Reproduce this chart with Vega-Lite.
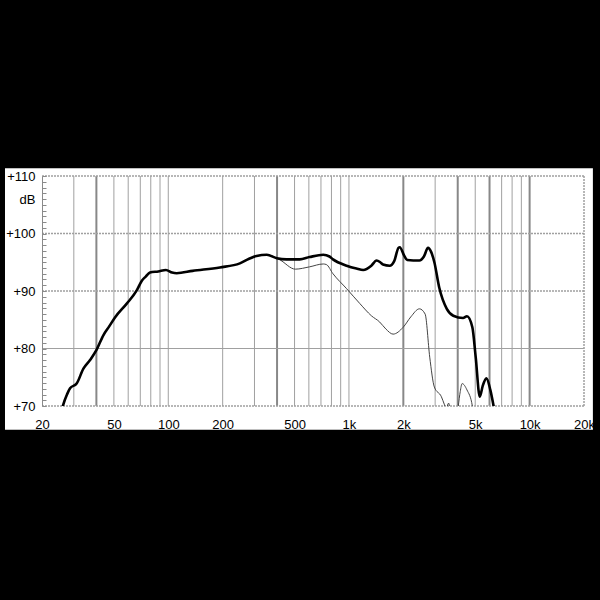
{
  "$schema": "https://vega.github.io/schema/vega-lite/v6.json",
  "width": 542,
  "height": 230,
  "autosize": {"type": "none"},
  "padding": {"left": 42, "top": 176, "right": 16, "bottom": 194},
  "background": "black",
  "config": {"view": {"stroke": null}, "font": "Liberation Sans"},
  "datasets": {
    "panel": [{"f1": 12.48, "f2": 22400, "db1": 65.85, "db2": 111.35}],
    "vgrid": [{"f": 30}, {"f": 50}, {"f": 60}, {"f": 70}, {"f": 80}, {"f": 90}, {"f": 100}, {"f": 200}, {"f": 300}, {"f": 500}, {"f": 600}, {"f": 700}, {"f": 800}, {"f": 900}, {"f": 1000}, {"f": 3000}, {"f": 5000}, {"f": 7000}, {"f": 8000}, {"f": 9000}],
    "vgridBold": [{"f": 40}, {"f": 400}, {"f": 2000}, {"f": 4000}, {"f": 6000}, {"f": 10000}],
    "vedge": [{"f": 20000}],
    "hdot": [{"db": 70}, {"db": 90}, {"db": 100}, {"db": 110}],
    "hsolid": [{"db": 80}],
    "curves": [
      {"s": "A", "f": 25.6, "db": 69.0},
      {"s": "A", "f": 26.2, "db": 70.2},
      {"s": "A", "f": 27.5, "db": 72.0},
      {"s": "A", "f": 28.6, "db": 73.1},
      {"s": "A", "f": 31.1, "db": 73.9},
      {"s": "A", "f": 33.9, "db": 76.5},
      {"s": "A", "f": 36.9, "db": 78.0},
      {"s": "A", "f": 40, "db": 79.7},
      {"s": "A", "f": 43.7, "db": 82.3},
      {"s": "A", "f": 47, "db": 83.8},
      {"s": "A", "f": 50.7, "db": 85.4},
      {"s": "A", "f": 58.9, "db": 87.8},
      {"s": "A", "f": 66.9, "db": 90.1},
      {"s": "A", "f": 71.4, "db": 91.8},
      {"s": "A", "f": 75, "db": 92.5},
      {"s": "A", "f": 79.2, "db": 93.2},
      {"s": "A", "f": 88, "db": 93.4},
      {"s": "A", "f": 97.1, "db": 93.65},
      {"s": "A", "f": 105, "db": 93.2},
      {"s": "A", "f": 111.4, "db": 93.1},
      {"s": "A", "f": 136.4, "db": 93.5},
      {"s": "A", "f": 193, "db": 94.1},
      {"s": "A", "f": 249, "db": 94.8},
      {"s": "A", "f": 280, "db": 95.6},
      {"s": "A", "f": 308, "db": 96.1},
      {"s": "A", "f": 351, "db": 96.3},
      {"s": "A", "f": 399, "db": 95.7},
      {"s": "A", "f": 451, "db": 95.5},
      {"s": "A", "f": 494, "db": 95.5},
      {"s": "A", "f": 534, "db": 95.5},
      {"s": "A", "f": 605, "db": 95.9},
      {"s": "A", "f": 721, "db": 96.3},
      {"s": "A", "f": 780, "db": 96.0},
      {"s": "A", "f": 816, "db": 95.5},
      {"s": "A", "f": 971, "db": 94.4},
      {"s": "A", "f": 1100, "db": 93.9},
      {"s": "A", "f": 1200, "db": 93.65},
      {"s": "A", "f": 1330, "db": 94.4},
      {"s": "A", "f": 1422, "db": 95.3},
      {"s": "A", "f": 1490, "db": 95.0},
      {"s": "A", "f": 1544, "db": 94.6},
      {"s": "A", "f": 1680, "db": 94.4},
      {"s": "A", "f": 1780, "db": 95.2},
      {"s": "A", "f": 1880, "db": 97.5},
      {"s": "A", "f": 1910, "db": 97.6},
      {"s": "A", "f": 2025, "db": 96.1},
      {"s": "A", "f": 2100, "db": 95.4},
      {"s": "A", "f": 2455, "db": 95.3},
      {"s": "A", "f": 2600, "db": 96.0},
      {"s": "A", "f": 2740, "db": 97.5},
      {"s": "A", "f": 2850, "db": 96.8},
      {"s": "A", "f": 2970, "db": 95.0},
      {"s": "A", "f": 3160, "db": 90.6},
      {"s": "A", "f": 3480, "db": 86.9},
      {"s": "A", "f": 3780, "db": 85.7},
      {"s": "A", "f": 4280, "db": 85.3},
      {"s": "A", "f": 4500, "db": 85.6},
      {"s": "A", "f": 4820, "db": 83.7},
      {"s": "A", "f": 5030, "db": 78.5},
      {"s": "A", "f": 5300, "db": 71.6},
      {"s": "A", "f": 5500, "db": 73.5},
      {"s": "A", "f": 5770, "db": 74.8},
      {"s": "A", "f": 6060, "db": 72.8},
      {"s": "A", "f": 6300, "db": 70.2},
      {"s": "A", "f": 6400, "db": 69.0},
      {"s": "B", "f": 351, "db": 96.3},
      {"s": "B", "f": 399, "db": 95.7},
      {"s": "B", "f": 416, "db": 95.4},
      {"s": "B", "f": 505, "db": 93.8},
      {"s": "B", "f": 605, "db": 94.2},
      {"s": "B", "f": 721, "db": 94.7},
      {"s": "B", "f": 750, "db": 94.6},
      {"s": "B", "f": 816, "db": 93.0},
      {"s": "B", "f": 971, "db": 90.4},
      {"s": "B", "f": 1150, "db": 87.8},
      {"s": "B", "f": 1330, "db": 85.7},
      {"s": "B", "f": 1480, "db": 84.6},
      {"s": "B", "f": 1600, "db": 83.4},
      {"s": "B", "f": 1755, "db": 82.5},
      {"s": "B", "f": 1997, "db": 83.7},
      {"s": "B", "f": 2200, "db": 85.5},
      {"s": "B", "f": 2455, "db": 86.9},
      {"s": "B", "f": 2640, "db": 86.0},
      {"s": "B", "f": 2800, "db": 78.5},
      {"s": "B", "f": 2970, "db": 73.3},
      {"s": "B", "f": 3250, "db": 71.6},
      {"s": "B", "f": 3380, "db": 70.2},
      {"s": "B", "f": 3450, "db": 69.5},
      {"s": "B", "f": 3560, "db": 70.5},
      {"s": "B", "f": 3650, "db": 69.0},
      {"s": "B", "f": 3900, "db": 66.0},
      {"s": "B", "f": 4030, "db": 70.0},
      {"s": "B", "f": 4130, "db": 72.5},
      {"s": "B", "f": 4230, "db": 73.9},
      {"s": "B", "f": 4500, "db": 72.8},
      {"s": "B", "f": 4820, "db": 70.0},
      {"s": "B", "f": 4900, "db": 68.0}
    ]
  },
  "layer": [
    {
      "data": {"name": "panel"},
      "mark": {"type": "rect", "color": "white", "clip": false},
      "encoding": {
        "x": {
          "field": "f1", "type": "quantitative",
          "scale": {"type": "log", "domain": [20, 20000], "nice": false},
          "axis": {
            "title": null, "zindex": 1, "grid": false, "ticks": false, "domain": false,
            "values": [20, 30, 40, 50, 60, 70, 80, 90, 100, 200, 300, 400, 500, 600, 700, 800, 900, 1000, 2000, 3000, 4000, 5000, 6000, 7000, 8000, 9000, 10000, 20000],
            "labelExpr": "indexof([20,50,100,200,500,1000,2000,5000,10000,20000], datum.value) >= 0 ? (datum.value >= 1000 ? (datum.value/1000) + 'k' : '' + datum.value) : ''",
            "labelFlush": false, "labelOverlap": false, "labelPadding": 12,
            "labelFontSize": 13, "labelColor": "black", "labelFont": "Liberation Sans"
          }
        },
        "x2": {"field": "f2"},
        "y": {
          "field": "db1", "type": "quantitative",
          "scale": {"domain": [70, 110], "nice": false, "zero": false},
          "axis": {
            "title": null, "zindex": 1, "grid": false,
            "values": [70, 71, 72, 73, 74, 75, 76, 77, 78, 79, 80, 81, 82, 83, 84, 85, 86, 87, 88, 89, 90, 91, 92, 93, 94, 95, 96, 97, 98, 99, 100, 101, 102, 103, 104, 105, 106, 107, 108, 109, 110],
            "labelExpr": "datum.value == 106 ? 'dB' : (datum.value % 10 == 0 ? '+' + datum.value : '')",
            "tickSize": -4, "tickColor": "#8a8a8a", "domainColor": "#8a8a8a",
            "labelPadding": 11, "labelOverlap": false, "labelFlush": false,
            "labelFontSize": 13, "labelColor": "black", "labelFont": "Liberation Sans"
          }
        },
        "y2": {"field": "db2"}
      }
    },
    {
      "data": {"name": "vgrid"},
      "mark": {"type": "rule", "color": "#a0a0a0", "strokeWidth": 1},
      "encoding": {
        "x": {
          "field": "f", "type": "quantitative",
          "scale": {"type": "log", "domain": [20, 20000], "nice": false},
          "axis": {
            "title": null, "zindex": 1, "grid": false, "ticks": false, "domain": false,
            "values": [20, 30, 40, 50, 60, 70, 80, 90, 100, 200, 300, 400, 500, 600, 700, 800, 900, 1000, 2000, 3000, 4000, 5000, 6000, 7000, 8000, 9000, 10000, 20000],
            "labelExpr": "indexof([20,50,100,200,500,1000,2000,5000,10000,20000], datum.value) >= 0 ? (datum.value >= 1000 ? (datum.value/1000) + 'k' : '' + datum.value) : ''",
            "labelFlush": false, "labelOverlap": false, "labelPadding": 12,
            "labelFontSize": 13, "labelColor": "black", "labelFont": "Liberation Sans"
          }
        }
      }
    },
    {
      "data": {"name": "vgridBold"},
      "mark": {"type": "rule", "color": "#888888", "strokeWidth": 2},
      "encoding": {
        "x": {
          "field": "f", "type": "quantitative",
          "scale": {"type": "log", "domain": [20, 20000], "nice": false},
          "axis": {
            "title": null, "zindex": 1, "grid": false, "ticks": false, "domain": false,
            "values": [20, 30, 40, 50, 60, 70, 80, 90, 100, 200, 300, 400, 500, 600, 700, 800, 900, 1000, 2000, 3000, 4000, 5000, 6000, 7000, 8000, 9000, 10000, 20000],
            "labelExpr": "indexof([20,50,100,200,500,1000,2000,5000,10000,20000], datum.value) >= 0 ? (datum.value >= 1000 ? (datum.value/1000) + 'k' : '' + datum.value) : ''",
            "labelFlush": false, "labelOverlap": false, "labelPadding": 12,
            "labelFontSize": 13, "labelColor": "black", "labelFont": "Liberation Sans"
          }
        }
      }
    },
    {
      "data": {"name": "vedge"},
      "mark": {"type": "rule", "color": "#a0a0a0", "strokeWidth": 1.5, "strokeDash": [2, 1]},
      "encoding": {
        "x": {
          "field": "f", "type": "quantitative",
          "scale": {"type": "log", "domain": [20, 20000], "nice": false},
          "axis": {
            "title": null, "zindex": 1, "grid": false, "ticks": false, "domain": false,
            "values": [20, 30, 40, 50, 60, 70, 80, 90, 100, 200, 300, 400, 500, 600, 700, 800, 900, 1000, 2000, 3000, 4000, 5000, 6000, 7000, 8000, 9000, 10000, 20000],
            "labelExpr": "indexof([20,50,100,200,500,1000,2000,5000,10000,20000], datum.value) >= 0 ? (datum.value >= 1000 ? (datum.value/1000) + 'k' : '' + datum.value) : ''",
            "labelFlush": false, "labelOverlap": false, "labelPadding": 12,
            "labelFontSize": 13, "labelColor": "black", "labelFont": "Liberation Sans"
          }
        }
      }
    },
    {
      "data": {"name": "hdot"},
      "mark": {"type": "rule", "color": "#a0a0a0", "strokeWidth": 1.5, "strokeDash": [2, 1]},
      "encoding": {
        "y": {
          "field": "db", "type": "quantitative",
          "scale": {"domain": [70, 110], "nice": false, "zero": false},
          "axis": {
            "title": null, "zindex": 1, "grid": false,
            "values": [70, 71, 72, 73, 74, 75, 76, 77, 78, 79, 80, 81, 82, 83, 84, 85, 86, 87, 88, 89, 90, 91, 92, 93, 94, 95, 96, 97, 98, 99, 100, 101, 102, 103, 104, 105, 106, 107, 108, 109, 110],
            "labelExpr": "datum.value == 106 ? 'dB' : (datum.value % 10 == 0 ? '+' + datum.value : '')",
            "tickSize": -4, "tickColor": "#8a8a8a", "domainColor": "#8a8a8a",
            "labelPadding": 11, "labelOverlap": false, "labelFlush": false,
            "labelFontSize": 13, "labelColor": "black", "labelFont": "Liberation Sans"
          }
        }
      }
    },
    {
      "data": {"name": "hsolid"},
      "mark": {"type": "rule", "color": "#a0a0a0", "strokeWidth": 1.2},
      "encoding": {
        "y": {
          "field": "db", "type": "quantitative",
          "scale": {"domain": [70, 110], "nice": false, "zero": false},
          "axis": {
            "title": null, "zindex": 1, "grid": false,
            "values": [70, 71, 72, 73, 74, 75, 76, 77, 78, 79, 80, 81, 82, 83, 84, 85, 86, 87, 88, 89, 90, 91, 92, 93, 94, 95, 96, 97, 98, 99, 100, 101, 102, 103, 104, 105, 106, 107, 108, 109, 110],
            "labelExpr": "datum.value == 106 ? 'dB' : (datum.value % 10 == 0 ? '+' + datum.value : '')",
            "tickSize": -4, "tickColor": "#8a8a8a", "domainColor": "#8a8a8a",
            "labelPadding": 11, "labelOverlap": false, "labelFlush": false,
            "labelFontSize": 13, "labelColor": "black", "labelFont": "Liberation Sans"
          }
        }
      }
    },
    {
      "data": {"name": "curves"},
      "transform": [{"filter": "datum.s == 'B'"}],
      "mark": {"type": "line", "color": "#444444", "strokeWidth": 1, "clip": true, "interpolate": "monotone"},
      "encoding": {
        "x": {
          "field": "f", "type": "quantitative",
          "scale": {"type": "log", "domain": [20, 20000], "nice": false},
          "axis": {
            "title": null, "zindex": 1, "grid": false, "ticks": false, "domain": false,
            "values": [20, 30, 40, 50, 60, 70, 80, 90, 100, 200, 300, 400, 500, 600, 700, 800, 900, 1000, 2000, 3000, 4000, 5000, 6000, 7000, 8000, 9000, 10000, 20000],
            "labelExpr": "indexof([20,50,100,200,500,1000,2000,5000,10000,20000], datum.value) >= 0 ? (datum.value >= 1000 ? (datum.value/1000) + 'k' : '' + datum.value) : ''",
            "labelFlush": false, "labelOverlap": false, "labelPadding": 12,
            "labelFontSize": 13, "labelColor": "black", "labelFont": "Liberation Sans"
          }
        },
        "y": {
          "field": "db", "type": "quantitative",
          "scale": {"domain": [70, 110], "nice": false, "zero": false},
          "axis": {
            "title": null, "zindex": 1, "grid": false,
            "values": [70, 71, 72, 73, 74, 75, 76, 77, 78, 79, 80, 81, 82, 83, 84, 85, 86, 87, 88, 89, 90, 91, 92, 93, 94, 95, 96, 97, 98, 99, 100, 101, 102, 103, 104, 105, 106, 107, 108, 109, 110],
            "labelExpr": "datum.value == 106 ? 'dB' : (datum.value % 10 == 0 ? '+' + datum.value : '')",
            "tickSize": -4, "tickColor": "#8a8a8a", "domainColor": "#8a8a8a",
            "labelPadding": 11, "labelOverlap": false, "labelFlush": false,
            "labelFontSize": 13, "labelColor": "black", "labelFont": "Liberation Sans"
          }
        },
        "order": {"field": "f", "type": "quantitative"}
      }
    },
    {
      "data": {"name": "curves"},
      "transform": [{"filter": "datum.s == 'A'"}],
      "mark": {"type": "line", "color": "black", "strokeWidth": 2.6, "clip": true, "interpolate": "monotone"},
      "encoding": {
        "x": {
          "field": "f", "type": "quantitative",
          "scale": {"type": "log", "domain": [20, 20000], "nice": false},
          "axis": {
            "title": null, "zindex": 1, "grid": false, "ticks": false, "domain": false,
            "values": [20, 30, 40, 50, 60, 70, 80, 90, 100, 200, 300, 400, 500, 600, 700, 800, 900, 1000, 2000, 3000, 4000, 5000, 6000, 7000, 8000, 9000, 10000, 20000],
            "labelExpr": "indexof([20,50,100,200,500,1000,2000,5000,10000,20000], datum.value) >= 0 ? (datum.value >= 1000 ? (datum.value/1000) + 'k' : '' + datum.value) : ''",
            "labelFlush": false, "labelOverlap": false, "labelPadding": 12,
            "labelFontSize": 13, "labelColor": "black", "labelFont": "Liberation Sans"
          }
        },
        "y": {
          "field": "db", "type": "quantitative",
          "scale": {"domain": [70, 110], "nice": false, "zero": false},
          "axis": {
            "title": null, "zindex": 1, "grid": false,
            "values": [70, 71, 72, 73, 74, 75, 76, 77, 78, 79, 80, 81, 82, 83, 84, 85, 86, 87, 88, 89, 90, 91, 92, 93, 94, 95, 96, 97, 98, 99, 100, 101, 102, 103, 104, 105, 106, 107, 108, 109, 110],
            "labelExpr": "datum.value == 106 ? 'dB' : (datum.value % 10 == 0 ? '+' + datum.value : '')",
            "tickSize": -4, "tickColor": "#8a8a8a", "domainColor": "#8a8a8a",
            "labelPadding": 11, "labelOverlap": false, "labelFlush": false,
            "labelFontSize": 13, "labelColor": "black", "labelFont": "Liberation Sans"
          }
        },
        "order": {"field": "f", "type": "quantitative"}
      }
    }
  ]
}
